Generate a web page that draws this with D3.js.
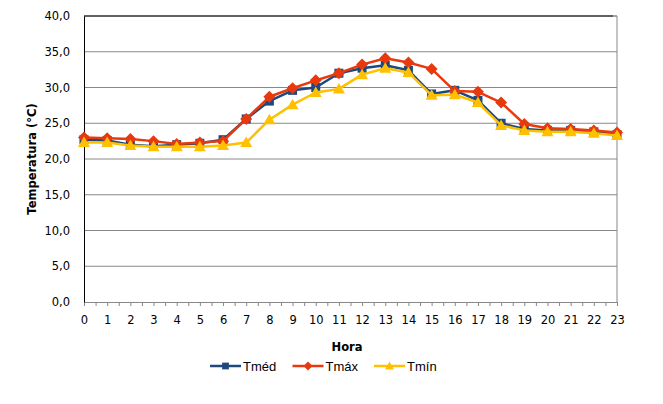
<!DOCTYPE html>
<html>
<head>
<meta charset="utf-8">
<script src="https://cdn.jsdelivr.net/npm/d3@7"></script>
<style>
    body { margin: 0; background: #fff; }
    svg { display: block; }
    .tick text { font-family: "DejaVu Sans", Verdana, sans-serif; font-size: 11.5px; fill: #000; }
</style>
</head>
<body>
<div id="drawing_region"></div>
<script>
// hours 0..23
const hours = d3.range(0, 24);
const tmed = [22.7, 22.6, 22.0, 21.8, 22.0, 22.2, 22.7, 25.6, 28.1, 29.6, 30.0, 32.0,
              32.7, 33.1, 32.4, 29.1, 29.6, 28.2, 25.0, 24.2, 24.0, 24.0, 23.8, 23.4];
const tmax = [23.0, 22.9, 22.8, 22.5, 22.1, 22.3, 22.5, 25.6, 28.7, 29.9, 31.0, 32.0,
              33.2, 34.1, 33.5, 32.6, 29.5, 29.4, 27.9, 24.9, 24.3, 24.2, 24.0, 23.7];
const tmin = [22.3, 22.3, 21.9, 21.7, 21.7, 21.7, 21.9, 22.3, 25.5, 27.6, 29.3, 29.8,
              31.8, 32.7, 32.1, 28.9, 29.0, 27.9, 24.7, 24.0, 23.8, 23.8, 23.6, 23.3];
const yTicks = [0, 5, 10, 15, 20, 25, 30, 35, 40];

const series = [
    { name: "Tméd", values: tmed, color: "#1F497D", marker: "square" },
    { name: "Tmáx", values: tmax, color: "#E8390E", marker: "diamond" },
    { name: "Tmín", values: tmin, color: "#FFC000", marker: "triangle" }
];

const width = 663, height = 404;
const margin = { top: 16, right: 46, bottom: 102, left: 84 };
const innerW = width - margin.left - margin.right;
const innerH = height - margin.top - margin.bottom;

const svg = d3.select("#drawing_region").append("svg")
    .attr("width", width)
    .attr("height", height);

const chart = svg.append("g")
    .attr("transform", `translate(${margin.left}, ${margin.top})`);

const xscale = d3.scaleLinear().domain([0, 23]).range([0, innerW]);
const yscale = d3.scaleLinear().domain([0, 40]).range([innerH, 0]);

// gridlines
chart.append("g").selectAll("line")
    .data(yTicks.slice(1))
    .enter().append("line")
    .attr("x1", 0).attr("x2", innerW)
    .attr("y1", d => yscale(d)).attr("y2", d => yscale(d))
    .attr("stroke", "#888").attr("stroke-width", 1);

// frame: top black, right gray
chart.append("line").attr("x1", 0).attr("x2", innerW - 4).attr("y1", 0).attr("y2", 0)
    .attr("stroke", "#000").attr("stroke-width", 1);
chart.append("line").attr("x1", innerW).attr("x2", innerW).attr("y1", 0).attr("y2", innerH)
    .attr("stroke", "#888").attr("stroke-width", 1);
chart.append("line").attr("x1", innerW - 4).attr("x2", innerW).attr("y1", 0).attr("y2", 0)
    .attr("stroke", "#888").attr("stroke-width", 1);

// x axis: minor ticks every half hour
const xaxis = d3.axisBottom(xscale)
    .tickValues(d3.range(0, 23.01, 0.5))
    .tickSize(4)
    .tickSizeOuter(0)
    .tickFormat(() => "");
const xg = chart.append("g")
    .attr("transform", `translate(0, ${innerH})`)
    .call(xaxis);
xg.selectAll("path, line").attr("stroke", "#888");

const xlabels = d3.axisBottom(xscale)
    .tickValues(hours)
    .tickSize(0)
    .tickPadding(14)
    .tickFormat(d => d);
const xl = chart.append("g")
    .attr("transform", `translate(0, ${innerH})`)
    .call(xlabels);
xl.select(".domain").remove();

// y axis
const yaxis = d3.axisLeft(yscale)
    .tickValues(yTicks)
    .tickSize(0)
    .tickPadding(14)
    .tickFormat(d => d.toFixed(1).replace(".", ","));
const yg = chart.append("g").call(yaxis);
yg.select(".domain").attr("stroke", "#000");

// lines + markers
const line = d3.line()
    .x((d, i) => xscale(hours[i]))
    .y(d => yscale(d));

function markerPath(type) {
    if (type === "square") return "M-4.5,-4.5H4.5V4.5H-4.5Z";
    if (type === "diamond") return "M0,-6L6,0L0,6L-6,0Z";
    return "M0,-6L6,4.5L-6,4.5Z";
}

series.forEach(s => {
    chart.append("path")
        .datum(s.values)
        .attr("fill", "none")
        .attr("stroke", s.color)
        .attr("stroke-width", 2.5)
        .attr("stroke-linejoin", "round")
        .attr("d", line);

    chart.append("g").selectAll("path")
        .data(s.values)
        .enter().append("path")
        .attr("transform", (d, i) => `translate(${xscale(hours[i])}, ${yscale(d)})`)
        .attr("d", markerPath(s.marker))
        .attr("fill", s.color);
});

// axis titles
svg.append("text")
    .attr("transform", `translate(36, ${margin.top + innerH / 2}) rotate(-90)`)
    .attr("text-anchor", "middle")
    .attr("font-family", "DejaVu Sans, Verdana, sans-serif")
    .attr("font-size", 11.5).attr("font-weight", "bold")
    .text("Temperatura (°C)");

svg.append("text")
    .attr("x", 347).attr("y", 351)
    .attr("text-anchor", "middle")
    .attr("font-family", "DejaVu Sans, Verdana, sans-serif")
    .attr("font-size", 11.5).attr("font-weight", "bold")
    .text("Hora");

// legend
const legendX = [210, 292.5, 374];
const legend = svg.append("g").attr("transform", "translate(0, 366)");
series.forEach((s, i) => {
    const g = legend.append("g").attr("transform", `translate(${legendX[i]}, 0)`);
    g.append("line").attr("x1", 0).attr("x2", 31).attr("y1", 0).attr("y2", 0)
        .attr("stroke", s.color).attr("stroke-width", 2.5);
    g.append("path").attr("transform", "translate(15.5, 0) scale(0.75)")
        .attr("d", markerPath(s.marker)).attr("fill", s.color);
    g.append("text").attr("x", 33).attr("y", 4.5)
        .attr("font-family", "Liberation Sans, Arial, sans-serif")
        .attr("font-size", 13)
        .text(s.name);
});
</script>
</body>
</html>
